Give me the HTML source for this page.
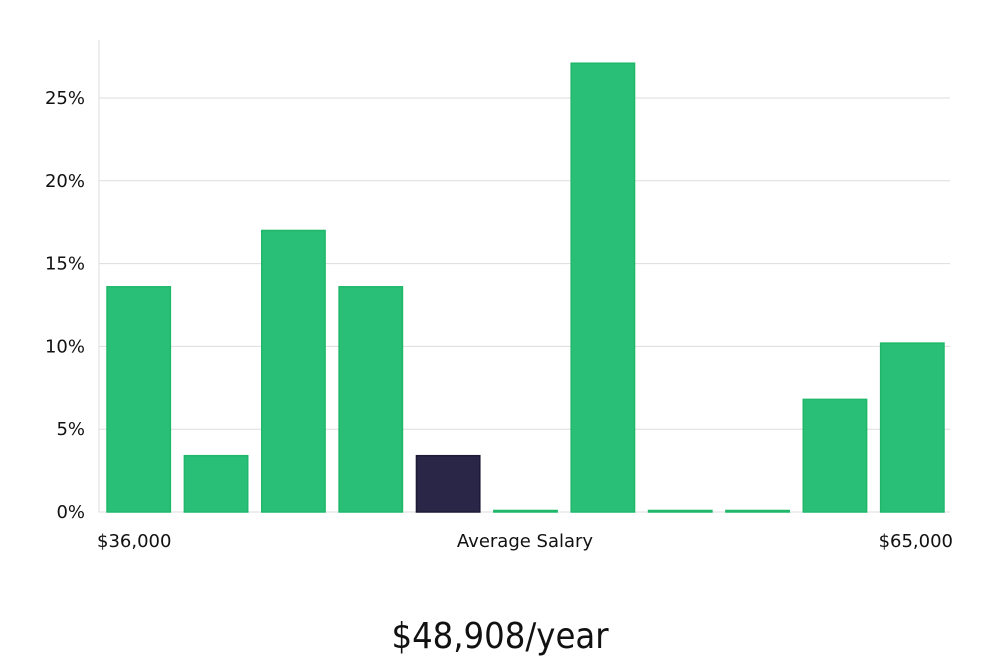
<!DOCTYPE html>
<html><head><meta charset="utf-8"><style>
body{margin:0;background:#fff;width:1000px;height:660px;overflow:hidden;font-family:"DejaVu Sans","Liberation Sans",sans-serif}
</style></head><body>
<svg width="1000" height="660">
<g id="grid"></g><g id="bars"></g><g id="labels"></g>
<line x1="99" y1="40" x2="99" y2="512" stroke="#ddd" stroke-width="1"/>
<text x="97" y="547" font-size="18" fill="#111">$36,000</text>
<text x="525" y="547" font-size="18" fill="#111" text-anchor="middle">Average Salary</text>
<text x="953" y="547" font-size="18" fill="#111" text-anchor="end">$65,000</text>
<text x="500" y="648" font-size="36" fill="#111" text-anchor="middle" font-family="'DejaVu Sans Condensed','Liberation Sans Narrow',sans-serif" font-weight="300">$48,908/year</text>
</svg>
<script>
const values=[13.6,3.4,17.0,13.6,3.4,0,27.1,0,0,6.8,10.2];
const highlight=[false,false,false,false,true,false,false,false,false,false,false];
const ticks=[0,5,10,15,20,25];
const tickLabels=["0%","5%","10%","15%","20%","25%"];
const NS="http://www.w3.org/2000/svg";
const x0=99,x1=950,y0=512,pxPer=16.56;
const y=v=>y0-v*pxPer;
const slot=(x1-x0)/values.length;
const grid=document.getElementById('grid'),bars=document.getElementById('bars'),labels=document.getElementById('labels');
ticks.forEach((t,i)=>{
 const l=document.createElementNS(NS,'line');
 
 
 l.setAttribute('x1',x0);l.setAttribute('x2',x1);l.setAttribute('y1',y(t));l.setAttribute('y2',y(t));
 l.setAttribute('stroke','#ddd');grid.appendChild(l);
 const tx=document.createElementNS(NS,'text');
 
 
 tx.setAttribute('x',85);tx.setAttribute('y',y(t)+6);tx.setAttribute('text-anchor','end');
 tx.setAttribute('font-size','18');tx.setAttribute('fill','#111');tx.textContent=tickLabels[i];labels.appendChild(tx);
});
values.forEach((v,i)=>{
 const r=document.createElementNS(NS,'rect');
 
 
 const bx=x0+i*slot+8,bw=slot-14;
 const h=Math.max(v*pxPer,1.5);
 r.setAttribute('x',bx);r.setAttribute('width',bw);r.setAttribute('y',y0-h);r.setAttribute('height',h);
 r.setAttribute('fill',highlight[i]?'#2a2647':'#2abf76');
 r.setAttribute('stroke',highlight[i]?'#1c1a35':'#1fb86b');r.setAttribute('stroke-width','1.5');
 bars.appendChild(r);
});
</script>
</body></html>
